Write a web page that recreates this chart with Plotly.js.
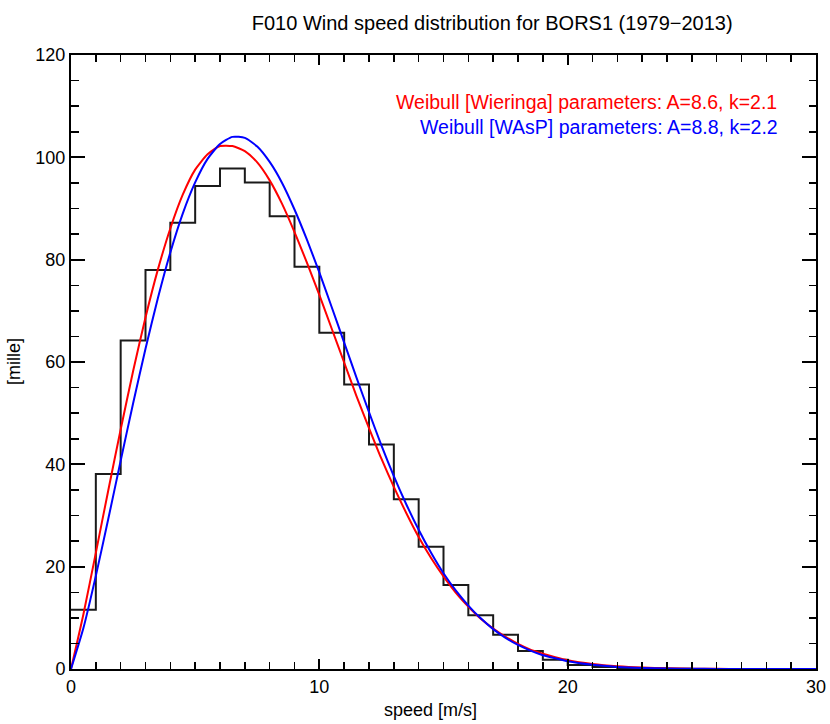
<!DOCTYPE html>
<html>
<head>
<meta charset="utf-8">
<script src="https://cdn.plot.ly/plotly-3.0.1.min.js"></script>
<style>html,body{margin:0;padding:0;background:#fff;}#chart{width:830px;height:724px;}</style>
</head>
<body>
<div id="chart"></div>
<script>
// Histogram: start of each 1 m/s bin and its frequency (per mille)
var binStart = [0,1,2,3,4,5,6,7,8,9,10,11,12,13,14,15,16,17,18,19,20,21,22,23,24,25,26,27,28,29];
var binFreq  = [11.6,38.1,64.2,78.0,87.2,94.4,97.8,95.1,88.5,78.6,65.7,55.6,43.9,33.2,23.9,16.4,10.5,6.7,3.5,1.8,0.8,0.4,0.2,0.1,0.05,0,0,0,0,0];

// Curve sample speeds
var curveSpeed = [0,0.5,1,1.5,2,2.5,3,3.5,4,4.5,5,5.5,6,6.5,7,7.5,8,8.5,9,9.5,10,10.5,11,11.5,12,12.5,13,13.5,14,14.5,15,15.5,16,16.5,17,17.5,18,18.5,19,19.5,20,21,22,23,24,25,26,27,28,29,30];
// Weibull [Wieringa] A=8.6 k=2.1 (red)
var redCurve = [0,10.7,22.7,34.9,46.8,58.2,68.7,78.1,86.1,92.7,97.6,100.6,102.2,102.2,101.2,99.0,95.5,90.9,85.4,79.4,73.1,66.5,59.9,53.3,47.1,41.1,35.6,30.5,25.8,21.7,18.1,14.9,12.2,9.8,7.9,6.3,4.9,3.8,3.0,2.3,1.7,0.96,0.52,0.27,0.14,0.06,0.03,0.012,0.005,0.002,0.001];
// Weibull [WAsP] A=8.8 k=2.2 (blue)
var blueCurve = [0,8.0,18.2,29.3,40.7,51.9,62.6,72.5,81.4,89.0,95.1,99.7,102.6,104.0,103.8,102.1,99.1,95.0,89.8,83.9,77.5,70.7,63.8,56.9,50.2,43.7,37.7,32.2,27.2,22.7,18.7,15.3,12.4,9.9,7.8,6.1,4.7,3.6,2.7,2.1,1.5,0.81,0.41,0.20,0.09,0.04,0.017,0.007,0.003,0.001,0];

var titleText = "F010 Wind speed distribution for BORS1 (1979\u22122013)";
var xTitle = "speed [m/s]";
var yTitle = "[mille]";
var redLabel = "Weibull [Wieringa] parameters: A=8.6, k=2.1";
var blueLabel = "Weibull [WAsP] parameters: A=8.8, k=2.2";

// build step outline edges
var stepX = binStart.slice(); stepX.push(binStart[binStart.length-1] + 1);
var stepY = binFreq.slice(); stepY.push(binFreq[binFreq.length-1]);

var font = "Liberation Sans, Arial, Helvetica, sans-serif";

var traces = [
  {x: stepX, y: stepY, type: 'scatter', mode: 'lines', line: {shape: 'hv', color: '#1a1a1a', width: 2}, hoverinfo: 'skip'},
  {x: curveSpeed, y: redCurve, type: 'scatter', mode: 'lines', line: {color: '#ff0000', width: 2, shape: 'spline', smoothing: 0.6}},
  {x: curveSpeed, y: blueCurve, type: 'scatter', mode: 'lines', line: {color: '#0000ff', width: 2, shape: 'spline', smoothing: 0.6}}
];

var layout = {
  width: 830, height: 724,
  margin: {l: 71, r: 14, t: 55, b: 55, pad: 0},
  paper_bgcolor: '#fff', plot_bgcolor: '#fff',
  showlegend: false,
  font: {family: font, color: '#000', size: 17},
  title: {text: titleText, font: {family: font, size: 20, color: '#000'}, x: 0.593, xanchor: 'center', y: 0.968, yanchor: 'middle'},
  xaxis: {
    range: [0, 30], dtick: 10, tick0: 0,
    showgrid: false, zeroline: false,
    showline: true, linecolor: '#000', linewidth: 2, mirror: 'ticks',
    ticks: 'inside', ticklen: 10, tickwidth: 2, tickcolor: '#000',
    tickfont: {family: font, size: 18, color: '#000'},
    minor: {dtick: 1, ticks: 'inside', ticklen: 7, tickwidth: 1.5, tickcolor: '#000', showgrid: false}
  },
  yaxis: {
    range: [0, 120], dtick: 20, tick0: 0,
    showgrid: false, zeroline: false,
    showline: true, linecolor: '#000', linewidth: 2, mirror: 'ticks',
    ticks: 'inside', ticklen: 14, tickwidth: 2, tickcolor: '#000',
    tickfont: {family: font, size: 18, color: '#000'},
    minor: {dtick: 5, ticks: 'inside', ticklen: 7.5, tickwidth: 1.5, tickcolor: '#000', showgrid: false}
  },
  annotations: [
    {xref: 'paper', yref: 'paper', x: 0.482, y: -0.067, xanchor: 'center', yanchor: 'middle', showarrow: false, text: xTitle, font: {family: font, size: 18, color: '#000'}},
    {xref: 'paper', yref: 'paper', x: -0.0765, y: 0.5, xanchor: 'center', yanchor: 'middle', textangle: -90, showarrow: false, text: yTitle, font: {family: font, size: 18, color: '#000'}},
    {xref: 'paper', yref: 'paper', x: 0.951, y: 0.924, xanchor: 'right', yanchor: 'middle', showarrow: false, text: redLabel, font: {family: font, size: 19.5, color: '#ff0000'}},
    {xref: 'paper', yref: 'paper', x: 0.952, y: 0.883, xanchor: 'right', yanchor: 'middle', showarrow: false, text: blueLabel, font: {family: font, size: 19.5, color: '#0000ff'}}
  ]
};

Plotly.newPlot('chart', traces, layout, {staticPlot: true, displayModeBar: false});
</script>
</body>
</html>
